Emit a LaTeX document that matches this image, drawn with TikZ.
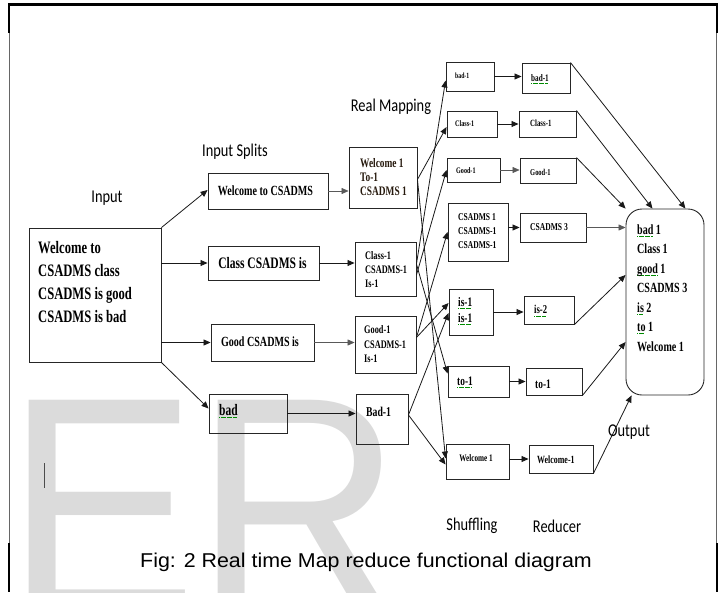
\documentclass[tikz,border=0pt]{standalone}
\usepackage{fontspec}
\usetikzlibrary{arrows.meta,calc}
\newfontfamily\tbfont[FakeStretch=0.72]{Liberation Serif}
\newfontfamily\calfont[FakeStretch=0.8]{Carlito}
\newfontfamily\arfont[FakeStretch=1.07]{Liberation Sans}
\newfontfamily\wmfont[FakeStretch=0.93]{Liberation Sans}
\newsavebox\sqbox
\newcommand\sq[1]{\sbox\sqbox{#1}\rlap{\raisebox{-2.4pt}{\color{green!55!black}\leaders\hbox{\kern.25pt\rule{0.7pt}{0.7pt}\kern.25pt}\hskip\wd\sqbox}}\usebox\sqbox}
\newcommand\mkbox[5]{\node[bx, minimum width={#4-#2}, minimum height={#5-#3}] (#1) at ({(#2+#4)/2},{(#3+#5)/2}) {};}
\tikzset{
  bx/.style={draw=black!85, line width=.9pt, inner sep=0pt},
  tx/.style={inner sep=0pt, align=left, anchor=west, text=black},
  ar/.style={-{Triangle[length=7pt,width=6pt]}, line width=.8pt, draw=black!90},
  arl/.style={-{Triangle[length=7pt,width=6pt]}, line width=.55pt, draw=black!65},
  lab/.style={inner sep=0pt, font=\calfont\fontsize{18}{20}\selectfont},
  wm/.style={anchor=base west, inner sep=0pt, text=black!14, font=\wmfont\fontsize{310}{310}\selectfont},
}
\newcommand\fs[2]{\tbfont\bfseries\fontsize{#1}{#2}\selectfont}
\begin{document}
\begin{tikzpicture}[x=1pt,y=-1pt]
\useasboundingbox (0,0) rectangle (719,592);
\clip (0,0) rectangle (719,592);
% watermark
\node[wm] (wmE) at (5,613) {E};
\node[wm] (wmR) at (194,613) {R};
% frame
\draw[line width=2.2pt] (8,4.5) -- (718,4.5);
\draw[line width=2pt] (9,4) -- (9,33) (717,4) -- (717,33);
\draw[line width=.8pt, black!60] (9.5,33) -- (9.5,543) (716.5,33) -- (716.5,543);
\draw[line width=2pt] (9,543) -- (9,592) (717,543) -- (717,592);
\draw[line width=1.3pt, black!70] (44.5,463) -- (44.5,488);
% labels
\node[lab] (lInput) at (107,198) {Input};
\node[lab] (lSplits) at (235,152) {Input Splits};
\node[lab] (lReal) at (391,107) {Real Mapping};
\node[lab] (lOut) at (629,432) {Output};
\node[lab] (lShuf) at (472,526) {Shuffling};
\node[lab] (lRed) at (557,526) {Reducer};
\node[inner sep=0pt, font=\arfont\fontsize{20}{22}\selectfont] (cap) at (366,562) {Fig: 2 Real time Map reduce functional diagram};
% boxes
\mkbox{inp}{29}{228}{161}{362}
\mkbox{s1}{208}{173}{328}{209}
\mkbox{s2}{208}{246}{319}{280}
\mkbox{s3}{211}{324}{314}{361}
\mkbox{s4}{209}{394}{287}{433}
\mkbox{m1}{349}{147}{417}{208}
\mkbox{m2}{355}{242}{416}{296}
\mkbox{m3}{355}{316}{416}{373}
\mkbox{m4}{356}{394}{408}{444}
\mkbox{h1}{446}{62}{494}{91}
\mkbox{h2}{447}{111}{497}{137}
\mkbox{h3}{447}{158}{500}{182}
\mkbox{h4}{448}{203}{508}{261}
\mkbox{h5}{449}{289}{493}{335}
\mkbox{h6}{448}{366}{509}{397}
\mkbox{h7}{446}{444}{509}{479}
\mkbox{r1}{522}{63}{570}{93}
\mkbox{r2}{519}{111}{576}{137}
\mkbox{r3}{520}{158}{576}{183}
\mkbox{r4}{520}{213}{586}{242}
\mkbox{r5}{524}{296}{574}{324}
\mkbox{r6}{526}{368}{582}{395}
\mkbox{r7}{529}{445}{593}{473}
\node[bx, rounded corners=16pt, minimum width=78, minimum height=186] (out) at (665,302) {};
% texts
\node[tx, font=\fs{17.5}{23}] (inpT) at (38,282.5) {Welcome to\\CSADMS class\\CSADMS is good\\CSADMS is bad};
\node[inner sep=0pt, font=\fs{14}{16}] (s1T) at (265.5,191) {Welcome to CSADMS};
\node[inner sep=0pt, font=\fs{16}{18}] (s2T) at (262.5,263) {Class CSADMS is};
\node[inner sep=0pt, font=\fs{14}{16}] (s3T) at (260,342) {Good CSADMS is};
\node[tx, font=\fs{16}{18}] (s4T) at (219,411) {\sq{bad}};
\node[tx, font=\fs{13}{14}, text=black!80!brown] (m1T) at (360,177) {Welcome~1\\To-1\\CSADMS~1};
\node[tx, font=\fs{11.5}{14}] (m2T) at (365,270) {Class-1\\CSADMS-1\\Is-1};
\node[tx, font=\fs{11.5}{14.5}] (m3T) at (364,344.5) {Good-1\\CSADMS-1\\Is-1};
\node[tx, font=\fs{13.5}{15}] (m4T) at (366,412) {Bad-1};
\node[tx, font=\fs{8}{9}] (h1T) at (455,76) {bad-1};
\node[tx, font=\fs{8.5}{9}] (h2T) at (455,124) {Class-1};
\node[tx, font=\fs{8.5}{9}] (h3T) at (456,171) {Good-1};
\node[tx, font=\fs{10.5}{14}] (h4T) at (458,231) {CSADMS~1\\CSADMS-1\\CSADMS-1};
\node[tx, font=\fs{13}{16}] (h5T) at (458,311) {\sq{is-1}\\\sq{is-1}};
\node[tx, font=\fs{13}{15}] (h6T) at (457,382) {\sq{to-1}};
\node[inner sep=0pt, font=\fs{10}{12}] (h7T) at (476,458) {Welcome 1};
\node[tx, font=\fs{10}{12}] (r1T) at (531,79) {\sq{bad-1}};
\node[tx, font=\fs{9.5}{11}] (r2T) at (530,123) {Class-1};
\node[tx, font=\fs{9}{11}] (r3T) at (530,172) {Good-1};
\node[tx, font=\fs{10.5}{12}] (r4T) at (530,227) {CSADMS 3};
\node[tx, font=\fs{12}{14}] (r5T) at (534,311) {\sq{is-2}};
\node[tx, font=\fs{13}{15}] (r6T) at (535,384) {to-1};
\node[tx, font=\fs{11}{13}] (r7T) at (537,460) {Welcome-1};
\node[tx, font=\fs{14}{19.5}] (outT) at (637,288) {\sq{bad} 1\\Class 1\\\sq{good} 1\\CSADMS 3\\\sq{is} 2\\\sq{to} 1\\Welcome 1};
% input -> splits
\draw[ar] (inp.north east) -- ([yshift=1pt]s1.west);
\draw[ar] (s2.west -| inp.east) -- (s2.west);
\draw[ar] (s3.west -| inp.east) -- (s3.west);
\draw[ar] (inp.south east) -- ([yshift=5pt]s4.west);
% splits -> mapping
\draw[arl] (s1.east) -- (m1.west |- s1.east);
\draw[ar] (s2.east) -- (m2.west |- s2.east);
\draw[arl] (s3.east) -- (m3.west |- s3.east);
\draw[ar] (s4.east) -- (m4.west |- s4.east);
% mapping -> shuffling
\draw[ar] ([yshift=-2pt]m1.east) -- ([yshift=-3pt]h2.west);
\draw[ar] ([yshift=-2pt]m1.east) -- ([yshift=3pt]h7.west);
\draw[ar] ([yshift=5pt]m2.east) -- ([yshift=-4pt]h1.west);
\draw[ar] ([yshift=-6pt]m2.east) -- (h3.west);
\draw[ar] ([yshift=5pt]m2.east) -- ([yshift=8pt]h6.west);
\draw[ar] ([yshift=7pt]m3.east) -- (h4.west);
\draw[ar] ([yshift=7pt]m3.east) -- ([yshift=9pt]h5.west);
\draw[ar] ([yshift=4pt]m4.east) -- ([yshift=-1pt]h5.west);
\draw[ar] ([yshift=4pt]m4.east) -- ([yshift=-3pt]h7.west);
% shuffling -> reducer
\draw[ar] (h1.east) -- (h1.east -| r1.west);
\draw[ar] (h2.east) -- (h2.east -| r2.west);
\draw[arl] (h3.east) -- (h3.east -| r3.west);
\draw[ar] (r4.west -| h4.east) -- (r4.west);
\draw[ar] (h5.east) -- (h5.east -| r5.west);
\draw[ar] (h6.east) -- (h6.east -| r6.west);
\draw[ar] (r7.west -| h7.east) -- (r7.west);
% reducer -> output
\draw[ar] (r1.north east) -- ([xshift=-19pt]out.north east);
\draw[ar] (r2.north east) -- ([xshift=-52pt]out.north east);
\draw[ar] (r3.north east) -- (out.north west);
\draw[arl] (r4.east) -- (r4.east -| out.west);
\draw[ar] (r5.south east) -- ([yshift=27pt]out.west);
\draw[ar] (r6.south east) -- ([yshift=-40pt]out.west);
\draw[ar] (r7.south east) -- ([xshift=6pt]out.south west);
\end{tikzpicture}
\end{document}
